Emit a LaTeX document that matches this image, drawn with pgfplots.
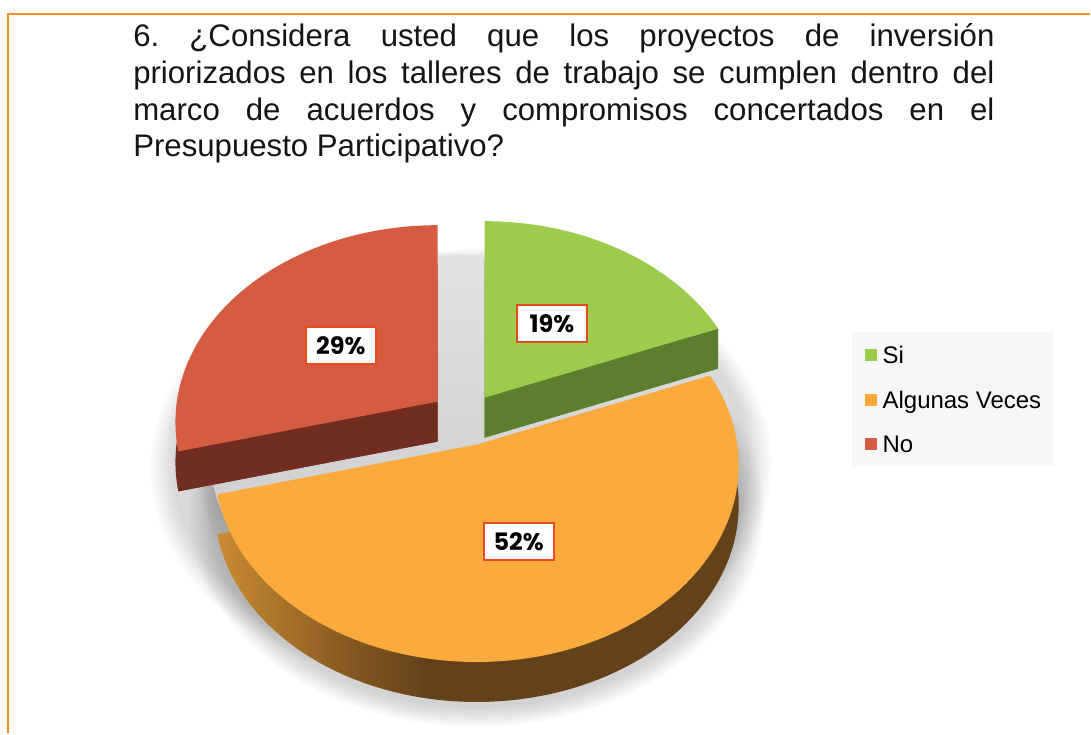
\documentclass[border=0pt]{standalone}
\usepackage{fontspec}
\setmainfont{Liberation Sans}
\newfontfamily\lblfont{Poppins}
\usepackage{pgfplots}
\pgfplotsset{compat=1.18}
\usepackage{pgfplotstable}

\definecolor{gtop}{HTML}{9CCC4C}
\definecolor{gside}{HTML}{5C7E2F}
\definecolor{otop}{HTML}{FBAA3D}
\definecolor{osideL}{HTML}{C98C33}
\definecolor{osideM}{HTML}{8A5A22}
\definecolor{osideD}{HTML}{63421A}
\definecolor{rtop}{HTML}{D55C40}
\definecolor{rside}{HTML}{722D22}
\definecolor{lblborder}{HTML}{E8491D}
\definecolor{legbg}{HTML}{F7F7F7}
\definecolor{bord}{HTML}{F39020}
\definecolor{gapT}{HTML}{E2E2E2}
\definecolor{gapB}{HTML}{C6C6C6}

\pgfdeclarehorizontalshading{osideshade}{100bp}{color(0bp)=(osideL); color(25bp)=(osideL); color(37bp)=(osideM); color(45bp)=(osideD); color(100bp)=(osideD)}

\pgfplotstableread{
label value
Si 19
Algunas 52
No 29
}\piedata

\pgfplotstablegetelem{0}{value}\of\piedata
\edef\vA{\pgfplotsretval}
\pgfplotstablegetelem{1}{value}\of\piedata
\edef\vB{\pgfplotsretval}
\pgfplotstablegetelem{2}{value}\of\piedata
\edef\vC{\pgfplotsretval}
\pgfmathsetmacro\aA{3.6*\vA}
\pgfmathsetmacro\aB{\aA+3.6*\vB}
\pgfmathsetmacro\mA{\aA/2}
\pgfmathsetmacro\mB{(\aA+\aB)/2}
\pgfmathsetmacro\mC{(\aB+360)/2}

\tikzset{declare function={
  PX(\c,\t,\r)=\c+\r*261*sin(\t)/(1+0.104*cos(\t));
  PY(\c,\t,\r)=\c-\r*195*cos(\t)/(1+0.104*cos(\t));
},
lbl/.style={draw=lblborder, line width=1pt, fill=white, minimum width=35pt,
    minimum height=18.5pt, inner sep=0pt, font=\lblfont\bfseries\fontsize{12pt}{14pt}\selectfont}}

\begin{document}
\frenchspacing
\begin{tikzpicture}
\begin{axis}[
  scale only axis, width=545.5pt, height=367pt,
  xmin=0, xmax=1091, ymin=0, ymax=734, y dir=reverse,
  hide axis, clip=false,
  legend image code/.code={\fill[#1, draw=none] (0pt,-3pt) rectangle (6pt,3pt);},
  legend cell align=left,
  legend style={at={(axis cs:865,346.4)}, anchor=north west, draw=none, fill=none,
    inner sep=0pt, row sep=13.65pt, column sep=3pt,
    font=\fontsize{12pt}{14pt}\selectfont,
    nodes={inner sep=0pt, text height=8.6pt, text depth=0pt},
    cells={anchor=west}},
]
\path (axis cs:0,0) rectangle (axis cs:1091,734);
\draw[bord, line width=1pt] (axis cs:1091,14.3) -- (axis cs:8.3,14.3) -- (axis cs:8.3,734);
\fill[legbg] (axis cs:853,332) rectangle (axis cs:1055,466);

% soft shadows
\pgfplotsinvokeforeach{3,6,9,12,15,18,21,24}{
  \addplot[forget plot, draw=none, fill=black, fill opacity=0.024, domain=0:360, samples=73]
    ({PX(477,x,1+#1/250)},{PY(489,x,1+#1/250)}) -- cycle;
  \addplot[forget plot, draw=none, fill=black, fill opacity=0.02, domain=0:360, samples=73]
    ({PX(438,x,1+#1/250)},{PY(446,x,1+#1/250)}) -- cycle;
  \addplot[forget plot, draw=none, fill=black, fill opacity=0.02, domain=0:360, samples=73]
    ({PX(485,x,1+#1/250)},{PY(442,x,1+#1/250)}) -- cycle;
}
% shadow in the gaps
\addplot[forget plot, draw=none, top color=gapT, bottom color=gapB, domain=0:360, samples=90]
  ({PX(472,x,1)},{PY(432,x,1)}) -- cycle;

% No (red)
\addplot[forget plot, draw=none, fill=rside, domain=\aB:360, samples=60]
  ({PX(438,x,1)},{PY(442,x,1)}) -- (axis cs:438,442) -- cycle;
\fill[rside] (axis cs:438,402) -- (axis cs:{PX(438,\aB,1)},{PY(402,\aB,1)})
  -- (axis cs:{PX(438,\aB,1)},{PY(442,\aB,1)}) -- (axis cs:438,442) -- cycle;
\addplot[forget plot, draw=none, fill=rtop, domain=\aB:360, samples=60]
  ({PX(438,x,1)},{PY(402,x,1)}) -- (axis cs:438,402) -- cycle;
% Si (green)
\addplot[forget plot, draw=none, fill=gside, domain=0:\aA, samples=60]
  ({PX(485,x,1)},{PY(438,x,1)}) -- (axis cs:485,438) -- cycle;
\fill[gside] (axis cs:485,398) -- (axis cs:{PX(485,\aA,1)},{PY(398,\aA,1)})
  -- (axis cs:{PX(485,\aA,1)},{PY(438,\aA,1)}) -- (axis cs:485,438) -- cycle;
\addplot[forget plot, draw=none, fill=gtop, domain=0:\aA, samples=60]
  ({PX(485,x,1)},{PY(398,x,1)}) -- (axis cs:485,398) -- cycle;
% Algunas Veces (orange)
\addplot[forget plot, draw=none, shading=osideshade, domain=\aA:\aB, samples=90]
  ({PX(477,x,1)},{PY(485,x,1)}) -- (axis cs:477,485) -- cycle;
\addplot[forget plot, draw=none, fill=otop, domain=\aA:\aB, samples=90]
  ({PX(477,x,1)},{PY(445,x,1)}) -- (axis cs:477,445) -- cycle;

% labels
\node[lbl] at (axis cs:{PX(485,\mA,0.5)},{PY(398,\mA,0.5)}) {\vA\%};
\node[lbl] at (axis cs:{PX(477,\mB,0.47)},{PY(445,\mB,0.47)}) {\vB\%};
\node[lbl] at (axis cs:{PX(438,\mC,0.5)},{PY(402,\mC,0.5)}) {\vC\%};

% title
\node[anchor=base west, inner sep=0pt, text width=431pt, align=justify,
  font=\fontsize{15.6pt}{18.3pt}\selectfont, text=black!92] at (axis cs:133,47)
  {6. ¿Considera usted que los proyectos de inversión\linebreak
   priorizados en los talleres de trabajo se cumplen dentro del\linebreak
   marco de acuerdos y compromisos concertados en el\linebreak
   Presupuesto Participativo?};

\addlegendimage{fill=gtop}
\addlegendentry{Si}
\addlegendimage{fill=otop}
\addlegendentry{Algunas Veces}
\addlegendimage{fill=rtop}
\addlegendentry{No}
\end{axis}
\end{tikzpicture}
\end{document}
